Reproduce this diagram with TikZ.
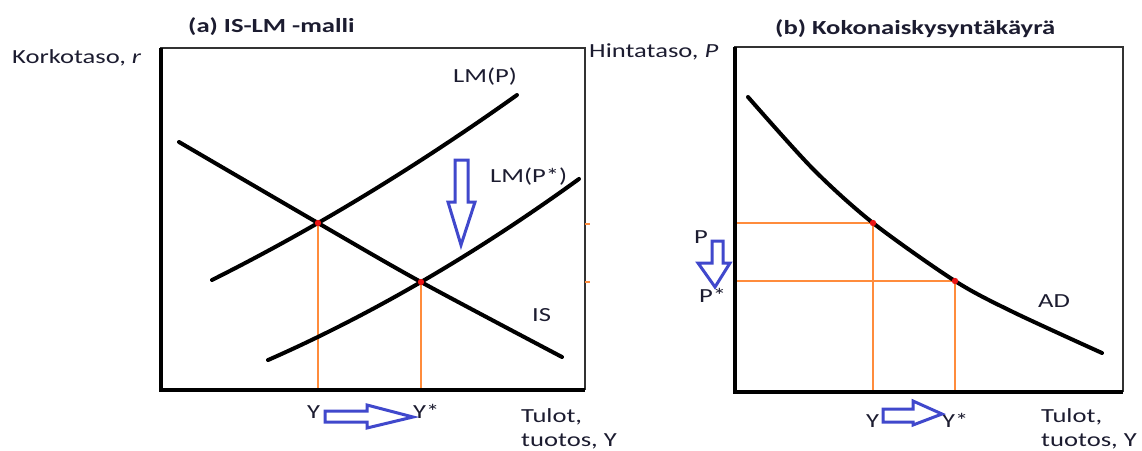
\documentclass[tikz,border=0pt]{standalone}
\usepackage{fontspec}
\setmainfont{Carlito}[FakeStretch=1.33]
\definecolor{textcol}{RGB}{28,28,48}
\definecolor{framecol}{RGB}{50,50,50}
\definecolor{orangeln}{RGB}{255,140,60}
\definecolor{bluearrow}{RGB}{64,72,204}
\definecolor{reddot}{RGB}{235,20,20}
\tikzset{
  lbl/.style={inner sep=0pt, anchor=base west, text=textcol, font=\fontsize{20}{24}\selectfont},
  ttl/.style={lbl, font=\fontsize{20}{24}\selectfont\bfseries},
  thinframe/.style={draw=framecol, line width=1.5pt},
  axisline/.style={draw=black, line width=4.5pt},
  curve/.style={draw=black, line width=4pt, line cap=round, line join=round},
  guide/.style={draw=orangeln, line width=1.5pt},
  blockarrow/.style={draw=bluearrow, line width=3pt, fill=white, line join=miter},
  eqdot/.style={fill=reddot, draw=none}
}
\begin{document}
\begin{tikzpicture}[x=1pt,y=-1pt]
\useasboundingbox (0,0) rectangle (1142,450);

% ---------- Panel (a) ----------
\node[ttl] (titleA) at (188,32) {(a) IS-LM -malli};
\node[lbl] (yaxA) at (12,63) {Korkotaso, \textit{r}};
\draw[thinframe] (161,390) -- (161,48) -- (585,48) -- (585,390);
% orange guides
\draw[guide] (318,223) -- (318,390);
\draw[guide] (421,282) -- (421,390);
\draw[guide] (585,224) -- (590,224);
\draw[guide] (585,282) -- (590,282);
% axes
\draw[axisline] (161,48) -- (161,390) -- (585,390);
% curves
\draw[curve] plot[smooth] coordinates {(179,142) (318,223) (421,282) (562,357)};
\draw[curve] plot[domain=-106:199, samples=60] ({318+\x},{223-0.5744*\x-(0.0186*\x)*(0.0186*\x)});
\draw[curve] plot[domain=-153:158, samples=60] ({421+\x},{282-0.580*\x-(0.02138*\x)*(0.02138*\x)});
% equilibrium dots
\fill[eqdot] (318,223) circle (3.2);
\fill[eqdot] (421,282) circle (3.2);
% labels
\node[lbl] (lmP) at (453,82) {LM(P)};
\node[lbl] (lmPs) at (490,182) {LM(P*)};
\node[lbl] (isA) at (532,321) {IS};
\node[lbl] (yA) at (307,418) {Y};
\node[lbl] (ysA) at (413,418) {Y*};
\node[lbl] (tulA) at (521,422) {Tulot,};
\node[lbl] (tuoA) at (521,446) {tuotos, Y};
% blue arrows
\draw[blockarrow] (455,160) -- (468,160) -- (468,202) -- (475,202) -- (461,245) -- (448,202) -- (455,202) -- cycle;
\draw[blockarrow] (325,411) -- (367,411) -- (367,405) -- (413,417) -- (367,428) -- (367,422) -- (325,422) -- cycle;

% ---------- Panel (b) ----------
\node[ttl] (titleB) at (775,34) {(b) Kokonaiskysyntäkäyrä};
\node[lbl] (yaxB) at (589,57) {Hintataso, \textit{P}};
\draw[thinframe] (735,392) -- (735,47) -- (1123,47) -- (1123,392);
% orange guides
\draw[guide] (735,223) -- (873,223) -- (873,392);
\draw[guide] (735,281) -- (955,281) -- (955,392);
% axes
\draw[axisline] (735,47) -- (735,392) -- (1123,392);
% AD curve
\draw[curve] plot[smooth] coordinates {(748,97) (813,169) (873,223) (955,281) (1013,312) (1102,353)};
\fill[eqdot] (873,223) circle (3.2);
\fill[eqdot] (955,281) circle (3.2);
% labels
\node[lbl] (adB) at (1038,307) {AD};
\node[lbl] (pB) at (694,243) {P};
\node[lbl] (psB) at (699,302) {P*};
\node[lbl] (yB) at (866,427) {Y};
\node[lbl] (ysB) at (942,427) {Y*};
\node[lbl] (tulB) at (1041,422) {Tulot,};
\node[lbl] (tuoB) at (1041,446) {tuotos, Y};
% blue arrows
\draw[blockarrow] (712,241) -- (723,241) -- (723,263) -- (730,263) -- (715,287) -- (698,263) -- (712,263) -- cycle;
\draw[blockarrow] (883,409) -- (913,409) -- (913,401) -- (942,414) -- (913,425) -- (913,422) -- (883,422) -- cycle;
\end{tikzpicture}
\end{document}
